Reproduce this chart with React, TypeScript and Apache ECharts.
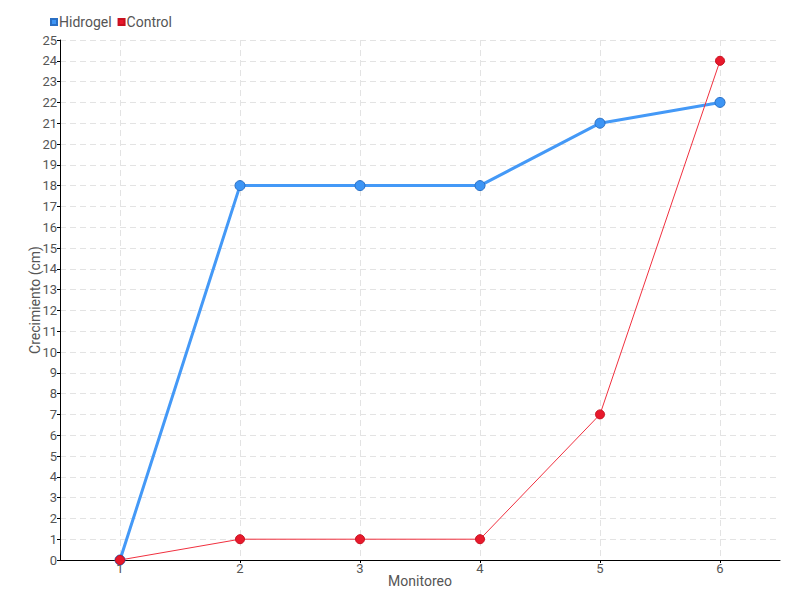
import React, { useEffect, useRef } from "react";
import * as echarts from "echarts";

const categories = ["1", "2", "3", "4", "5", "6"];
const hidrogel = [0, 18, 18, 18, 21, 22];
const control = [0, 1, 1, 1, 7, 24];

const FONT = "Roboto, sans-serif";

export default function App() {
  const ref = useRef<HTMLDivElement>(null);
  useEffect(() => {
    const chart = echarts.init(ref.current!, null, { renderer: "svg" });
    chart.setOption({
      animation: false,
      textStyle: { fontFamily: FONT },
      legend: {
        left: 45,
        top: 10,
        itemWidth: 6,
        itemHeight: 6,
        itemGap: 6,
        icon: "rect",
        textStyle: { color: "#555", fontSize: 14, fontFamily: FONT, padding: [0, 0, 0, -3] },
        data: ["Hidrogel", "Control"],
      },
      grid: { left: 60, right: 20, top: 40, bottom: 40 },
      xAxis: {
        type: "category",
        data: categories,
        name: "Monitoreo",
        nameLocation: "middle",
        nameGap: 14,
        nameMoveOverlap: false,
        nameTextStyle: { color: "#555", fontSize: 14, fontFamily: FONT },
        axisLine: { lineStyle: { color: "#000", width: 1 } },
        axisTick: { show: true, alignWithLabel: true, length: 3, lineStyle: { color: "#000" } },
        axisLabel: { color: "#555", fontSize: 13, margin: 2, fontFamily: FONT },
        splitLine: { show: true, alignWithLabel: true, lineStyle: { color: "#e3e3e3", type: [6, 4] } },
      },
      yAxis: {
        type: "value",
        min: 0,
        max: 25,
        interval: 1,
        name: "Crecimiento (cm)",
        nameLocation: "middle",
        nameGap: 18,
        nameMoveOverlap: false,
        nameTextStyle: { color: "#555", fontSize: 14, fontFamily: FONT },
        axisLine: { show: true, lineStyle: { color: "#000", width: 1 } },
        axisTick: { show: true, length: 3, lineStyle: { color: "#000" } },
        axisLabel: { color: "#555", fontSize: 13, margin: 3, fontFamily: FONT },
        splitLine: { show: true, lineStyle: { color: "#e3e3e3", type: [6, 4] } },
      },
      series: [
        {
          name: "Hidrogel",
          type: "line",
          data: hidrogel,
          symbol: "circle",
          symbolSize: 10,
          itemStyle: { color: "#3d95f5", borderColor: "#2a6fc4", borderWidth: 1 },
          lineStyle: { color: "#4499f7", width: 3 },
        },
        {
          name: "Control",
          type: "line",
          data: control,
          symbol: "circle",
          symbolSize: 9,
          itemStyle: { color: "#e8192c", borderColor: "#c8101f", borderWidth: 1 },
          lineStyle: { color: "#f0303f", width: 1 },
        },
      ],
    });
    return () => chart.dispose();
  }, []);
  return <div ref={ref} style={{ width: 800, height: 600, position: "absolute", left: 0, top: 0 }} />;
}
